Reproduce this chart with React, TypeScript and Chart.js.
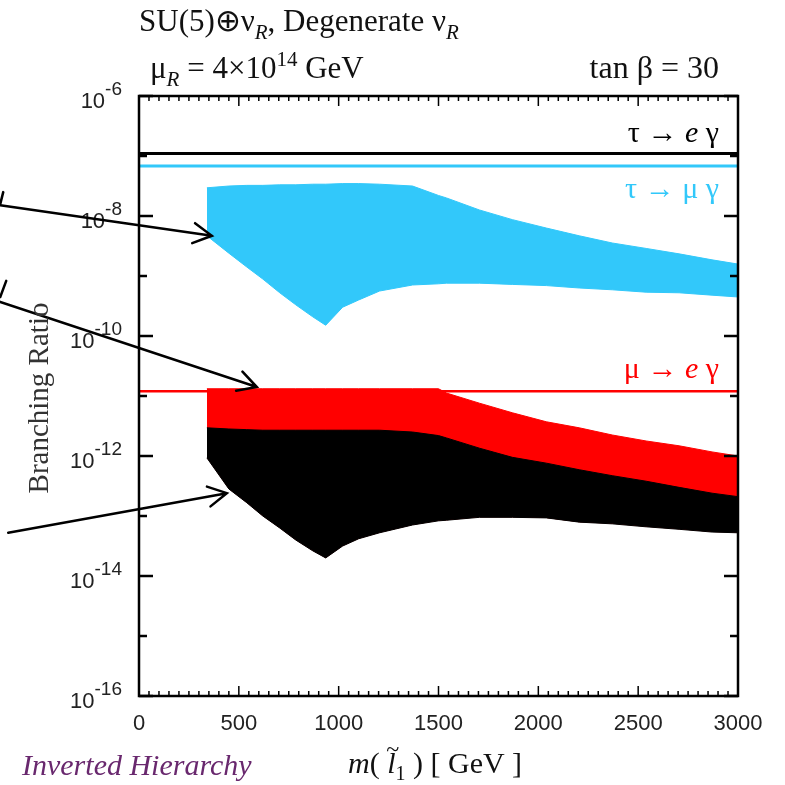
import React, { useEffect, useRef } from "react";
import { Chart, registerables } from "chart.js";

Chart.register(...registerables);

// ---- data ----
const masses = [340, 450, 540, 620, 705, 785, 870, 935, 1020, 1100, 1205, 1370, 1500, 1540, 1705, 1870, 2040, 2205, 2370, 2540, 2705, 2870, 3000];

const tauMuUpper = [2.95e-8, 3.16e-8, 3.24e-8, 3.24e-8, 3.31e-8, 3.31e-8, 3.39e-8, 3.39e-8, 3.47e-8, 3.47e-8, 3.39e-8, 3.16e-8, 2.2e-8, 2.0e-8, 1.26e-8, 8.7e-9, 6.3e-9, 4.68e-9, 3.55e-9, 2.88e-9, 2.34e-9, 1.86e-9, 1.58e-9];
const tauMuLower = [4.68e-9, 2.4e-9, 1.41e-9, 8.9e-10, 5.25e-10, 3.31e-10, 2.09e-10, 1.51e-10, 3.02e-10, 3.98e-10, 5.62e-10, 7.08e-10, 7.41e-10, 7.59e-10, 7.59e-10, 7.24e-10, 6.92e-10, 6.31e-10, 5.89e-10, 5.37e-10, 5.25e-10, 4.79e-10, 4.47e-10];

const muERedUpper = [1.32e-11, 1.32e-11, 1.32e-11, 1.32e-11, 1.32e-11, 1.32e-11, 1.32e-11, 1.32e-11, 1.32e-11, 1.32e-11, 1.32e-11, 1.32e-11, 1.32e-11, 1.12e-11, 7.59e-12, 5.25e-12, 3.72e-12, 2.95e-12, 2.24e-12, 1.78e-12, 1.48e-12, 1.17e-12, 1.0e-12];
const muEBlackUpper = [2.95e-12, 2.82e-12, 2.75e-12, 2.69e-12, 2.69e-12, 2.69e-12, 2.69e-12, 2.69e-12, 2.69e-12, 2.69e-12, 2.69e-12, 2.51e-12, 2.19e-12, 2.0e-12, 1.35e-12, 9.5e-13, 7.6e-13, 5.9e-13, 4.7e-13, 3.8e-13, 3.0e-13, 2.4e-13, 2.1e-13];
const muEBlackLower = [9.3e-13, 2.82e-13, 1.66e-13, 1.0e-13, 6.3e-14, 3.98e-14, 2.63e-14, 2.0e-14, 3.16e-14, 4.17e-14, 5.25e-14, 7.08e-14, 8.3e-14, 8.5e-14, 9.5e-14, 9.5e-14, 9.3e-14, 7.9e-14, 7.4e-14, 6.6e-14, 6.0e-14, 5.4e-14, 5.25e-14];

const limitMass = [0, 3000];
const tauELimit = 1.1e-7;
const tauMuLimit = 6.8e-8;
const muELimit = 1.2e-11;

const xTickValues = [0, 500, 1000, 1500, 2000, 2500, 3000];
const yLabelExponents = [-6, -8, -10, -12, -14, -16];

// annotation arrows (data coordinates; tails lie left of the axis)
const arrowTailMass = [-695, -695, -655];
const arrowTailBR = [1.51e-8, 3.7e-10, 5.25e-14];
const arrowTipMass = [365, 590, 440];
const arrowTipBR = [4.68e-9, 1.41e-11, 2.4e-13];
// cropped annotation fragments at the left edge (data coordinates)
const fragStartMass = [-695, -695];
const fragStartBR = [1.58e-8, 4.47e-10];
const fragEndMass = [-680, -665];
const fragEndBR = [2.5e-8, 8.3e-10];

const CYAN = "rgb(50,200,250)";
const RED = "rgb(255,0,0)";
const BLACK = "#000";
const SERIF = '"Liberation Serif", "Times New Roman", serif';
const SANS = '"Liberation Sans", Arial, sans-serif';

const pts = (ys: number[]) => masses.map((m, i) => ({ x: m, y: ys[i] }));
const flat = (v: number) => limitMass.map((m) => ({ x: m, y: v }));

type Part = { t: string; f: string; dy?: number };
function drawParts(ctx: CanvasRenderingContext2D, parts: Part[], x: number, y: number, align: "left" | "right") {
  let w = 0;
  parts.forEach((p) => {
    ctx.font = p.f;
    w += ctx.measureText(p.t).width;
  });
  let cx = align === "right" ? x - w : x;
  const xs: number[] = [];
  parts.forEach((p) => {
    ctx.font = p.f;
    xs.push(cx);
    ctx.fillText(p.t, cx, y + (p.dy || 0));
    cx += ctx.measureText(p.t).width;
  });
  return xs;
}

const decor = {
  id: "decor",
  afterDraw(chart: any) {
    const { ctx, chartArea: a, scales } = chart;
    const x = scales.x;
    const y = scales.y;
    ctx.save();
    ctx.textAlign = "left";
    ctx.textBaseline = "alphabetic";

    // frame
    ctx.strokeStyle = BLACK;
    ctx.lineWidth = 2.5;
    ctx.strokeRect(a.left, a.top, a.right - a.left, a.bottom - a.top);

    // x ticks (inward, bottom and top)
    ctx.lineWidth = 1.5;
    for (let v = 0; v <= 3000; v += 50) {
      const px = x.getPixelForValue(v);
      const len = v % 500 === 0 ? 10 : 5;
      ctx.beginPath();
      ctx.moveTo(px, a.bottom);
      ctx.lineTo(px, a.bottom - len);
      ctx.moveTo(px, a.top);
      ctx.lineTo(px, a.top + len);
      ctx.stroke();
    }
    // y ticks (inward, left and right)
    ctx.lineWidth = 2.5;
    for (let e = -16; e <= -6; e++) {
      const py = y.getPixelForValue(Math.pow(10, e));
      const len = e % 2 === 0 ? 14 : 8;
      ctx.beginPath();
      ctx.moveTo(a.left, py);
      ctx.lineTo(a.left + len, py);
      ctx.moveTo(a.right, py);
      ctx.lineTo(a.right - len, py);
      ctx.stroke();
    }

    // y labels 10^e
    ctx.fillStyle = "#222";
    yLabelExponents.forEach((e) => {
      const py = y.getPixelForValue(Math.pow(10, e));
      drawParts(
        ctx,
        [
          { t: "10", f: `22px ${SANS}`, dy: 12 },
          { t: "-" + String(-e), f: `19px ${SANS}`, dy: -1 },
        ],
        a.left - 17,
        py,
        "right"
      );
    });

    // arrows
    ctx.strokeStyle = BLACK;
    ctx.lineWidth = 2.5;
    ctx.lineCap = "round";
    arrowTipMass.forEach((_, i) => {
      const x0 = x.getPixelForValue(arrowTailMass[i]);
      const y0 = y.getPixelForValue(arrowTailBR[i]);
      const x1 = x.getPixelForValue(arrowTipMass[i]);
      const y1 = y.getPixelForValue(arrowTipBR[i]);
      const ang = Math.atan2(y1 - y0, x1 - x0);
      const hl = 21;
      const ha = 0.5;
      ctx.beginPath();
      ctx.moveTo(x0, y0);
      ctx.lineTo(x1, y1);
      ctx.moveTo(x1 - hl * Math.cos(ang - ha), y1 - hl * Math.sin(ang - ha));
      ctx.lineTo(x1, y1);
      ctx.lineTo(x1 - hl * Math.cos(ang + ha), y1 - hl * Math.sin(ang + ha));
      ctx.stroke();
    });
    fragStartMass.forEach((_, i) => {
      ctx.beginPath();
      ctx.moveTo(x.getPixelForValue(fragStartMass[i]), y.getPixelForValue(fragStartBR[i]));
      ctx.lineTo(x.getPixelForValue(fragEndMass[i]), y.getPixelForValue(fragEndBR[i]));
      ctx.stroke();
    });

    // process labels inside the frame
    const R = a.right - 19;
    const LF = `30px ${SERIF}`;
    const LFI = `italic 30px ${SERIF}`;
    ctx.fillStyle = BLACK;
    drawParts(ctx, [
      { t: "\u03c4 \u2192 ", f: LF },
      { t: "e", f: LFI },
      { t: " \u03b3", f: LF },
    ], R, 142, "right");
    ctx.fillStyle = CYAN;
    drawParts(ctx, [
      { t: "\u03c4 \u2192 \u03bc \u03b3", f: LF },
    ], R, 198, "right");
    ctx.fillStyle = RED;
    drawParts(ctx, [
      { t: "\u03bc \u2192 ", f: LF },
      { t: "e", f: LFI },
      { t: " \u03b3", f: LF },
    ], R, 378, "right");

    // header
    const HF = `31px ${SERIF}`;
    const SUB = `italic 21px ${SERIF}`;
    ctx.fillStyle = "#111";
    drawParts(ctx, [
      { t: "SU(5)\u2295\u03bd", f: HF },
      { t: "R", f: SUB, dy: 8 },
      { t: ", Degenerate \u03bd", f: HF },
      { t: "R", f: SUB, dy: 8 },
    ], a.left, 31, "left");
    drawParts(ctx, [
      { t: "\u03bc", f: HF },
      { t: "R", f: SUB, dy: 8 },
      { t: " = 4\u00d710", f: HF },
      { t: "14", f: `21px ${SERIF}`, dy: -12 },
      { t: " GeV", f: HF },
    ], a.left + 11, 78, "left");
    drawParts(ctx, [
      { t: "tan \u03b2 = 30", f: `32px ${SERIF}` },
    ], R, 78, "right");

    // y-axis title
    ctx.save();
    ctx.translate(48, (a.top + a.bottom) / 2 + 2);
    ctx.rotate(-Math.PI / 2);
    ctx.textAlign = "center";
    ctx.font = `29px ${SERIF}`;
    ctx.fillStyle = "#333";
    ctx.fillText("Branching Ratio", 0, 0);
    ctx.restore();

    // x-axis title
    ctx.fillStyle = "#111";
    const XF = `30px ${SERIF}`;
    const xs = drawParts(ctx, [
      { t: "m", f: `italic 30px ${SERIF}` },
      { t: "( ", f: XF },
      { t: "l", f: `italic 30px ${SERIF}` },
      { t: "1", f: `20px ${SERIF}`, dy: 7 },
      { t: " ) [ GeV ]", f: XF },
    ], 348, 773, "left");
    ctx.font = `24px ${SERIF}`;
    ctx.fillText("~", xs[2] - 1, 757);

    // hierarchy note
    ctx.fillStyle = "rgb(105,40,110)";
    ctx.font = `italic 30px ${SERIF}`;
    ctx.fillText("Inverted Hierarchy", 22, 775);

    ctx.restore();
  },
};

export default function App() {
  const ref = useRef<HTMLCanvasElement>(null);
  useEffect(() => {
    const band = (label: string, data: number[], color: string, fill: any) => ({
      label,
      data: pts(data),
      borderColor: color,
      backgroundColor: color,
      borderWidth: 1,
      pointRadius: 0,
      tension: 0,
      fill,
    });
    const limit = (label: string, v: number, color: string, w: number) => ({
      label,
      data: flat(v),
      borderColor: color,
      backgroundColor: color,
      borderWidth: w,
      pointRadius: 0,
      fill: false,
    });
    const chart = new Chart(ref.current as HTMLCanvasElement, {
      type: "line",
      data: {
        datasets: [
          limit("tau -> e gamma limit", tauELimit, BLACK, 3),
          limit("tau -> mu gamma limit", tauMuLimit, CYAN, 3),
          limit("mu -> e gamma limit", muELimit, RED, 2.5),
          band("mu -> e gamma (black) upper", muEBlackUpper, BLACK, 4),
          band("mu -> e gamma (black) lower", muEBlackLower, BLACK, false),
          band("mu -> e gamma (red) upper", muERedUpper, RED, 4),
          band("tau -> mu gamma upper", tauMuUpper, CYAN, 7),
          band("tau -> mu gamma lower", tauMuLower, CYAN, false),
        ] as any,
      },
      options: {
        responsive: false,
        devicePixelRatio: 1,
        animation: false,
        events: [],
        layout: { padding: { top: 96, right: 47, bottom: 0, left: 0 } },
        plugins: {
          legend: { display: false },
          tooltip: { enabled: false },
        },
        scales: {
          x: {
            type: "linear",
            min: 0,
            max: 3000,
            grid: { display: false, drawTicks: false },
            border: { display: false },
            afterBuildTicks: (s: any) => {
              s.ticks = xTickValues.map((v) => ({ value: v }));
            },
            ticks: {
              padding: 15,
              maxRotation: 0,
              autoSkip: false,
              color: "#222",
              font: { family: "Liberation Sans", size: 22 },
              callback: (v: any) => String(v),
            },
            afterFit: (s: any) => {
              s.height = 89;
            },
          },
          y: {
            type: "logarithmic",
            min: 1e-16,
            max: 1e-6,
            grid: { display: false, drawTicks: false },
            border: { display: false },
            ticks: { display: false },
            afterFit: (s: any) => {
              s.width = 139;
            },
          },
        },
      } as any,
      plugins: [decor],
    });
    return () => chart.destroy();
  }, []);
  return (
    <div style={{ position: "absolute", left: 0, top: 0, width: 785, height: 785, background: "#fff" }}>
      <canvas ref={ref} width={785} height={785} style={{ display: "block", width: 785, height: 785 }} />
    </div>
  );
}
